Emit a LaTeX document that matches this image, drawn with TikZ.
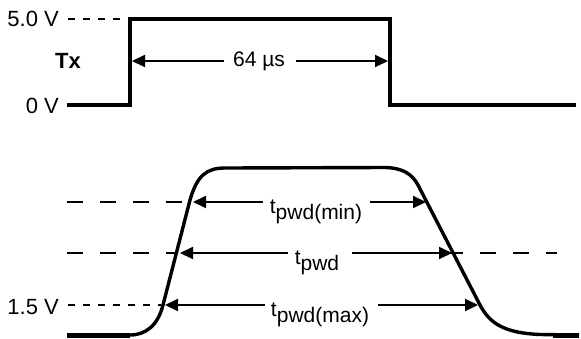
\documentclass[tikz,border=0pt]{standalone}
\usepackage{fontspec}
\setmainfont{Liberation Sans}
\usetikzlibrary{arrows.meta}
\begin{document}
\begin{tikzpicture}[x=1pt,y=-1pt,
  sig/.style={line width=4pt,line join=miter},
  wave/.style={line width=3.4pt,line join=round,line cap=butt},
  base/.style={line width=5pt},
  shortdash/.style={line width=2pt,dash pattern=on 7pt off 8pt},
  longdash/.style={line width=2pt,dash pattern=on 16pt off 17pt},
  arr/.style={line width=2pt,-{Triangle[length=13pt,width=12pt]}},
  lbl/.style={font=\fontsize{22}{24}\selectfont,inner sep=0pt},
  tlbl/.style={font=\fontsize{21}{23}\selectfont,inner sep=0pt,anchor=base}
  ]
\useasboundingbox (0,0) rectangle (581,338);
% ---- top signal Tx
\coordinate (t0) at (67,105);
\coordinate (t1) at (130,105);
\coordinate (t2) at (130,18.5);
\coordinate (t3) at (390,18.5);
\coordinate (t4) at (390,105);
\coordinate (t5) at (576,105);
\draw[sig] (t0) -- (t1) -- (t2) -- (t3) -- (t4) -- (t5);
\coordinate (d5a) at (68,18.5);
\coordinate (d5b) at (128,18.5);
\draw[shortdash] (d5a) -- (d5b);
\node[lbl,anchor=east] (v5) at (59,18.5) {5.0 V};
\node[lbl,anchor=east] (v0) at (59,106) {0 V};
\node[lbl,font=\fontsize{22}{24}\selectfont\bfseries] (tx) at (68,61) {Tx};
\node[lbl,font=\fontsize{21}{23}\selectfont] (n64) at (259,61) {64 \textmu s};
\coordinate (a64l) at (132,61);
\coordinate (a64r) at (388,61);
\coordinate (a64ls) at (224,61);
\coordinate (a64rs) at (296,61);
\draw[arr] (a64ls) -- (a64l);
\draw[arr] (a64rs) -- (a64r);
% ---- bottom waveform
\coordinate (b0) at (67,335);
\coordinate (b1) at (130,335);
\coordinate (b5) at (579,335);
\coordinate (bb1) at (553,335);
\draw[wave] (b0) -- (b1) .. controls (146,335) and (158,325) .. (163,305)
  -- (190,200) .. controls (197,176) and (206,168) .. (225,168)
  -- (385,167.5) .. controls (403,168) and (412,174) .. (418,185)
  -- (480,305) .. controls (490,324) and (505,333) .. (540,334.5) -- (b5);
\draw[base] (b0) -- (b1);
\draw[base] (bb1) -- (b5);
% dashed levels
\coordinate (dm1) at (67,202);
\coordinate (dm2) at (188,202);
\draw[longdash] (dm1) -- (dm2);
\coordinate (dc1) at (67,253);
\coordinate (dc2) at (177,253);
\draw[longdash] (dc1) -- (dc2);
\coordinate (dc3) at (447,253);
\coordinate (dc4) at (557,253);
\draw[longdash] (dc3) -- (dc4);
\coordinate (dx1) at (68,305);
\coordinate (dx2) at (161,305);
\draw[shortdash] (dx1) -- (dx2);
\node[lbl,anchor=east] (v15) at (59,307) {1.5 V};
% t_pwd(min)
\node[tlbl] (tmin) at (316,213) {t\raisebox{-6pt}{pwd(min)}};
\coordinate (minL) at (193,202);
\coordinate (minR) at (426,202);
\coordinate (minLs) at (263,202);
\coordinate (minRs) at (370,202);
\draw[arr] (minLs) -- (minL);
\draw[arr] (minRs) -- (minR);
% t_pwd
\node[tlbl] (tmid) at (317,264) {t\raisebox{-6pt}{pwd}};
\coordinate (midL) at (180,253);
\coordinate (midR) at (452,253);
\coordinate (midLs) at (288,253);
\coordinate (midRs) at (352,253);
\draw[arr] (midLs) -- (midL);
\draw[arr] (midRs) -- (midR);
% t_pwd(max)
\node[tlbl] (tmax) at (320,316) {t\raisebox{-6pt}{pwd(max)}};
\coordinate (maxL) at (165,305);
\coordinate (maxR) at (478,305);
\coordinate (maxLs) at (265,305);
\coordinate (maxRs) at (378,305);
\draw[arr] (maxLs) -- (maxL);
\draw[arr] (maxRs) -- (maxR);
\end{tikzpicture}
\end{document}
